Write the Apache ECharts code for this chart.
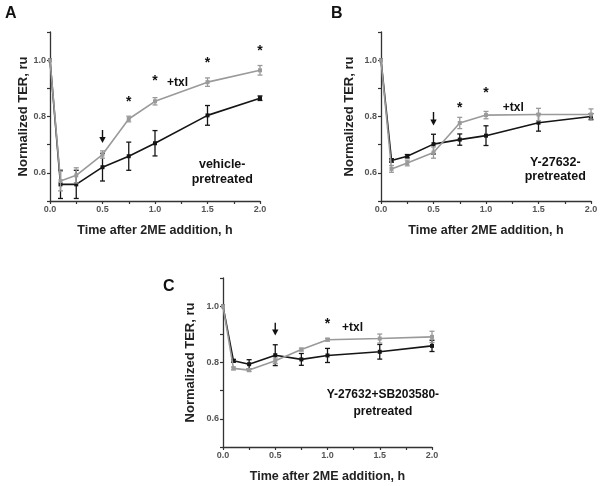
<!DOCTYPE html>
<html><head><meta charset="utf-8">
<script src="https://cdn.jsdelivr.net/npm/echarts@6/dist/echarts.min.js"></script>
<style>html,body{margin:0;padding:0;background:#fff}#c{width:601px;height:486px}</style>
</head><body><div id="c"></div>
<script>
// ---- data ----
const timeH = [0, 0.1, 0.25, 0.5, 0.75, 1.0, 1.5, 2.0];
const xTickLabels = ['0.0', '0.5', '1.0', '1.5', '2.0'];
const yTickLabels = ['0.6', '0.8', '1.0'];

const txlA    = [1.0, 0.571, 0.591, 0.665, 0.791, 0.854, 0.922, 0.964];
const txlErrA = [0, 0.035, 0.027, 0.013, 0.010, 0.013, 0.015, 0.017];
const vehA    = [1.0, 0.559, 0.559, 0.620, 0.659, 0.705, 0.804, 0.865];
const vehErrA = [0, 0.050, 0.050, 0.049, 0.050, 0.045, 0.035, 0.008];

const txlB    = [1.0, 0.614, 0.635, 0.672, 0.777, 0.805, 0.807, 0.807];
const txlErrB = [0, 0.012, 0.010, 0.020, 0.020, 0.013, 0.022, 0.020];
const ctlB    = [1.0, 0.644, 0.659, 0.702, 0.718, 0.732, 0.778, 0.800];
const ctlErrB = [0, 0.006, 0.006, 0.035, 0.020, 0.035, 0.030, 0.010];

const txlC    = [1.0, 0.779, 0.773, 0.806, 0.846, 0.881, 0.885, 0.891];
const txlErrC = [0, 0.005, 0.005, 0.010, 0.005, 0.005, 0.016, 0.020];
const ctlC    = [1.0, 0.806, 0.794, 0.826, 0.811, 0.825, 0.838, 0.859];
const ctlErrC = [0, 0.005, 0.016, 0.037, 0.021, 0.025, 0.026, 0.020];

const panelLetters = ['A', 'B', 'C'];
const conditionText = ['vehicle-\npretreated', 'Y-27632-\npretreated', 'Y-27632+SB203580-\npretreated'];
const txlText = '+txl';
const xTitle = 'Time after 2ME addition, h';
const yTitle = 'Normalized TER, ru';

// annotation anchors (data coordinates)
const starsA = [[0.75, 0.852], [1.0, 0.926], [1.5, 0.991], [2.0, 1.032]];
const starsB = [[0.75, 0.831], [1.0, 0.884]];
const starsC = [[1.0, 0.935]];
const txlPos = [[1.215, 0.92], [1.26, 0.831], [1.24, 0.925]];
const condPos = [[1.64, 0.604], [1.66, 0.613], [1.53, 0.654]];
const arrowPos = [[0.5, 0.752, 0.706], [0.5, 0.816, 0.768], [0.5, 0.941, 0.896]];

// ---- layout ----
const grids = [
  {left: 50, top: 32, width: 210, height: 169},
  {left: 381, top: 32, width: 210, height: 169},
  {left: 223, top: 278, width: 209, height: 169}
];
const yNameGap = [19, 25, 26];
const condFont = [12.5, 12.5, 12];
const condLine = [15, 14, 17];
const GRAY = '#9a9a9a', BLACK = '#151515';
const FONT = '"Liberation Sans", Arial, sans-serif';

function errData(vals, errs) {
  return timeH.map((t, i) => [t, vals[i] - errs[i], vals[i] + errs[i], errs[i]]);
}
function errSeries(idx, vals, errs, color, z) {
  return {
    type: 'custom', xAxisIndex: idx, yAxisIndex: idx, z: z, silent: true,
    encode: {x: 0, y: [1, 2]},
    data: errData(vals, errs),
    renderItem: function (params, api) {
      if (api.value(3) <= 0) return {type: 'group', children: []};
      const x = api.value(0);
      const p1 = api.coord([x, api.value(1)]);
      const p2 = api.coord([x, api.value(2)]);
      const w = 2.5;
      const st = {stroke: color, lineWidth: 1.3};
      return {type: 'group', children: [
        {type: 'line', shape: {x1: p1[0], y1: p1[1], x2: p2[0], y2: p2[1]}, style: st},
        {type: 'line', shape: {x1: p1[0] - w, y1: p1[1], x2: p1[0] + w, y2: p1[1]}, style: st},
        {type: 'line', shape: {x1: p2[0] - w, y1: p2[1], x2: p2[0] + w, y2: p2[1]}, style: st}
      ]};
    }
  };
}
function arrowSeries(idx, a) {
  return {
    type: 'custom', xAxisIndex: idx, yAxisIndex: idx, z: 20, silent: true,
    encode: {x: 0, y: [1, 2]},
    data: [a],
    renderItem: function (params, api) {
      const p1 = api.coord([api.value(0), api.value(1)]);
      const p2 = api.coord([api.value(0), api.value(2)]);
      const hw = 3.2, hh = 6;
      return {type: 'group', children: [
        {type: 'line', shape: {x1: p1[0], y1: p1[1], x2: p2[0], y2: p2[1] - hh + 1}, style: {stroke: '#111', lineWidth: 1.4}},
        {type: 'polygon', shape: {points: [[p2[0] - hw, p2[1] - hh], [p2[0] + hw, p2[1] - hh], [p2[0], p2[1]]]}, style: {fill: '#111'}}
      ]};
    }
  };
}
function lineSeries(idx, vals, color, z) {
  return {
    type: 'line', xAxisIndex: idx, yAxisIndex: idx, z: z,
    data: timeH.map((t, i) => [t, vals[i]]),
    symbol: 'rect', symbolSize: 4, showSymbol: true,
    lineStyle: {color: color, width: 1.6},
    itemStyle: {color: color}, animation: false
  };
}
function textSeries(idx, pts, size) {
  return {
    type: 'scatter', xAxisIndex: idx, yAxisIndex: idx, z: 20, silent: true,
    symbolSize: 1, itemStyle: {color: 'rgba(0,0,0,0)', opacity: 1},
    data: pts,
    label: {show: true, position: 'inside', formatter: p => p.data[2], opacity: 1,
      fontFamily: FONT, fontWeight: 'bold', fontSize: size, color: '#111', lineHeight: size + 1, align: 'center'}
  };
}

const xAxes = [], yAxes = [], series = [], graphics = [];
const stars = [starsA, starsB, starsC];
const sets = [[txlA, txlErrA, vehA, vehErrA], [txlB, txlErrB, ctlB, ctlErrB], [txlC, txlErrC, ctlC, ctlErrC]];
grids.forEach((g, i) => {
  xAxes.push({
    gridIndex: i, type: 'value', min: 0, max: 2, interval: 0.25,
    axisLine: {lineStyle: {color: '#333', width: 1.3}},
    axisTick: {length: 3, lineStyle: {color: '#333', width: 1.2}},
    splitLine: {show: false},
    axisLabel: {margin: 4, fontFamily: FONT, fontWeight: 'bold', fontSize: 9, color: '#555',
      formatter: v => { const s = v.toFixed(1); return (Math.abs(v * 2 - Math.round(v * 2)) < 1e-6 && xTickLabels.includes(s)) ? s : ''; }},
    name: xTitle, nameLocation: 'middle', nameGap: 23,
    nameTextStyle: {fontFamily: FONT, fontWeight: 'bold', fontSize: 12.5, color: '#222'}
  });
  yAxes.push({
    gridIndex: i, type: 'value', min: 0.5, max: 1.1, interval: 0.1,
    axisLine: {lineStyle: {color: '#333', width: 1.3}},
    axisTick: {length: 3, lineStyle: {color: '#333', width: 1.2}},
    splitLine: {show: false},
    axisLabel: {margin: 4, fontFamily: FONT, fontWeight: 'bold', fontSize: 9, color: '#555',
      formatter: v => { const s = v.toFixed(1); return yTickLabels.includes(s) ? s : ''; }},
    name: yTitle, nameLocation: 'middle', nameGap: yNameGap[i],
    nameTextStyle: {fontFamily: FONT, fontWeight: 'bold', fontSize: 13, color: '#222'}
  });
  const [gv, ge, bv, be] = sets[i];
  series.push(errSeries(i, bv, be, BLACK, 3));
  series.push(lineSeries(i, bv, BLACK, 4));
  series.push(errSeries(i, gv, ge, GRAY, 5));
  series.push(lineSeries(i, gv, GRAY, 6));
  series.push(textSeries(i, stars[i].map(p => [p[0], p[1], '*']), 14));
  series.push(textSeries(i, [[txlPos[i][0], txlPos[i][1], txlText]], 12));
  const ts = textSeries(i, [[condPos[i][0], condPos[i][1], conditionText[i]]], condFont[i]);
  ts.label.lineHeight = condLine[i];
  series.push(ts);
  series.push(arrowSeries(i, arrowPos[i]));
});
const letterPos = [[5, 6], [331, 6], [163, 279]];
letterPos.forEach((p, i) => graphics.push({
  type: 'text', left: p[0], top: p[1],
  style: {text: panelLetters[i], font: 'bold 16px ' + FONT, fill: '#111'}
}));

const chart = echarts.init(document.getElementById('c'), null, {renderer: 'canvas'});
chart.setOption({
  animation: false, backgroundColor: '#fff',
  grid: grids, xAxis: xAxes, yAxis: yAxes, series: series, graphic: graphics
});
</script></body></html>
